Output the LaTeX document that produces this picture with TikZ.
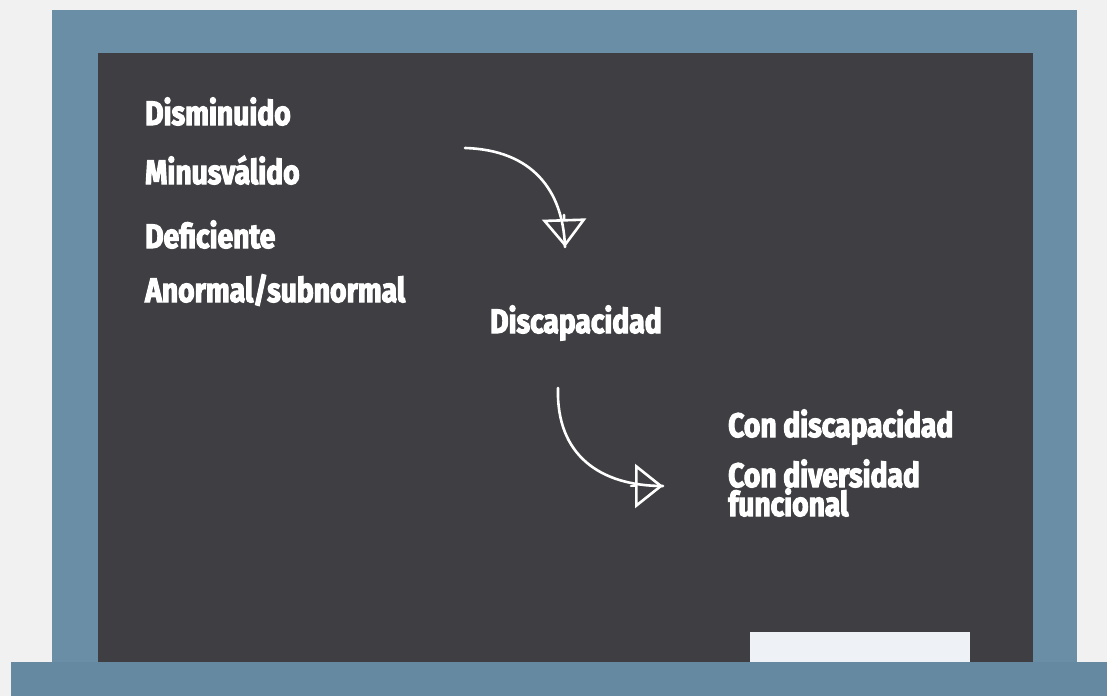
\documentclass[tikz,border=0pt]{standalone}
\usepackage{fontspec}
\usetikzlibrary{arrows.meta}
\newfontfamily\chalkfont[FakeStretch=0.83, FakeBold=3.2]{Fira Sans}
\definecolor{paper}{HTML}{F1F1F1}
\definecolor{framecol}{HTML}{6A8EA5}
\definecolor{ledgecol}{HTML}{6489A1}
\definecolor{boardcol}{HTML}{3F3E43}
\definecolor{erasercol}{HTML}{EEF1F5}
\tikzset{
  word/.style={anchor=base west, inner sep=0pt, text=white, font=\chalkfont\bfseries\fontsize{34}{29}\selectfont},
  chalkline/.style={draw=white, line width=2.6pt, line cap=round},
  chalktip/.style={chalkline, -{Triangle[open, length=28pt, width=44pt, line width=2.6pt]}}
}
\begin{document}
\begin{tikzpicture}[x=1pt, y=-1pt]
\useasboundingbox (0,0) rectangle (1107,696);
\fill[paper] (0,0) rectangle (1107,696);
% frame and board
\fill[framecol] (52,10) rectangle (1077,662);
\fill[boardcol] (98,53) rectangle (1033,662);
\fill[erasercol] (750,632) rectangle (970,662);
\fill[ledgecol] (11,662) rectangle (1107,696);
% words
\node[word] (dism) at (145,125) {Disminuido};
\node[word] (minus) at (145,184) {Minusválido};
\node[word] (defic) at (145,248) {Deficiente};
\node[word] (anorm) at (145,302) {Anormal/subnormal};
\node[word] (disc) at (490,333) {Discapacidad};
\node[word] (condisc) at (728,437) {Con discapacidad};
\node[word, align=left] (condiv) at (728,516) {Con diversidad\\funcional};
% arrows
\coordinate (a1s) at (465,148);
\coordinate (a1e) at (565,247);
\coordinate (a1b) at (564,215);
\coordinate (a2s) at (558,388);
\coordinate (a2e) at (663,486);
\coordinate (a2b) at (631,486);
\draw[chalkline] (a1s) .. controls (532,150) and (563,190) .. (a1e);
\draw[chalktip] (a1b) -- (a1e);
\draw[chalkline] (a2s) .. controls (556,455) and (600,486) .. (a2e);
\draw[chalktip] (a2b) -- (a2e);
\end{tikzpicture}
\end{document}
